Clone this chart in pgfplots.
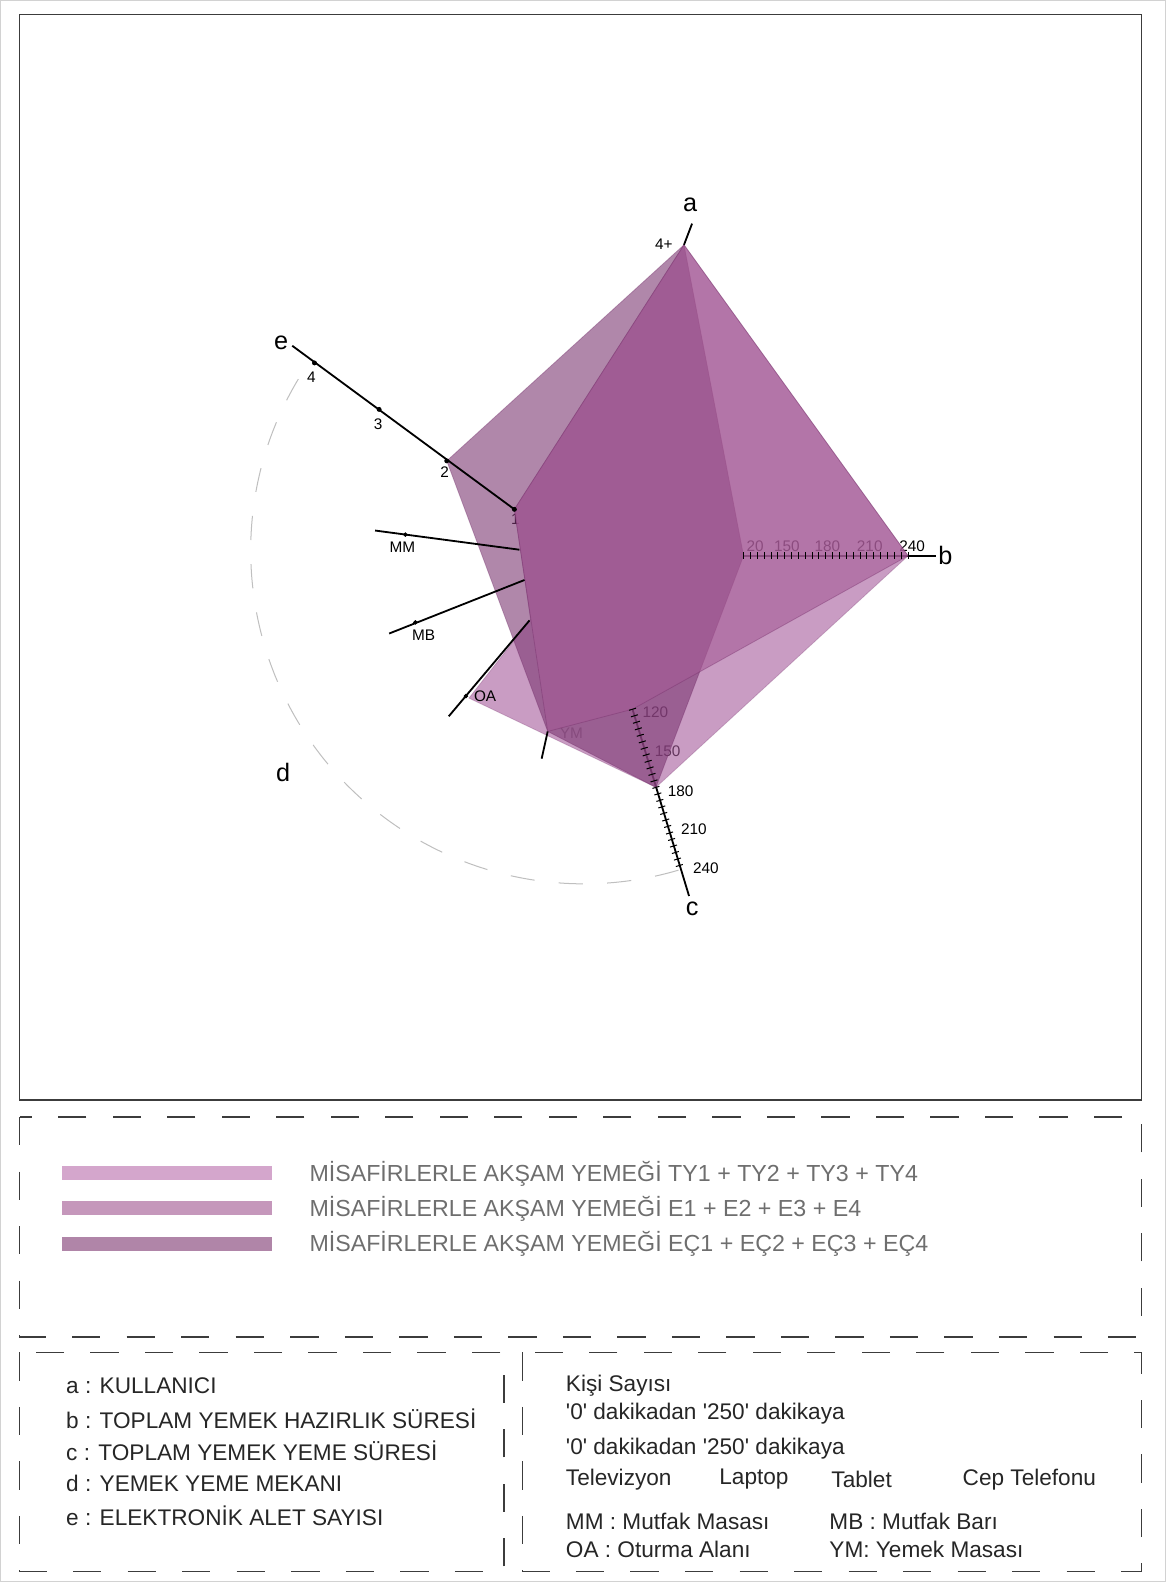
\documentclass[border=0pt]{standalone}
\usepackage{pgfplots}
\pgfplotsset{compat=1.18}
\usepackage{fontspec}
\setmainfont{Liberation Sans}
\definecolor{tyc}{RGB}{165,90,155}
\definecolor{ec}{RGB}{166,91,150}
\definecolor{ecc}{RGB}{124,55,114}
\definecolor{legA}{RGB}{212,166,204}
\definecolor{legB}{RGB}{197,151,187}
\definecolor{legC}{RGB}{176,133,168}
\definecolor{framec}{RGB}{60,60,60}
\definecolor{legtext}{RGB}{110,110,110}
\definecolor{edgec}{RGB}{110,40,100}

\begin{document}
\begin{tikzpicture}
\begin{axis}[width=578pt, height=784pt, scale only axis,
    xmin=0, xmax=1156, ymin=0, ymax=1568, y dir=reverse,
    hide axis, clip=false]

% frames
\draw[gray!35, line width=0.5pt] (axis cs:1,1) rectangle (axis cs:1155,1567);
\draw[framec, line width=0.8pt] (axis cs:20,15) rectangle (axis cs:1131,1090);
\draw[framec, line width=0.8pt, dash pattern=on 14pt off 13pt] (axis cs:20,1107) rectangle (axis cs:1131,1325);
\draw[framec, line width=0.8pt, dash pattern=on 14pt off 13pt] (axis cs:20,1340) rectangle (axis cs:500,1557);
\draw[framec, line width=0.8pt, dash pattern=on 14pt off 13pt] (axis cs:518,1340) rectangle (axis cs:1131,1557);

% d arc
\draw[gray!50, line width=0.5pt, dash pattern=on 12pt off 12pt] (axis cs:296,376) arc[start angle=149, end angle=287, radius=165pt];

% b axis (under the shapes)
\addplot[black, line width=0.9pt] coordinates {(737,551)(928,551)};
\addplot[black, only marks, mark=|, mark size=1.8pt, mark options={line width=0.5pt}] coordinates {
 (737,551)(743.8,551)(750.6,551)(757.4,551)(764.2,551)(771,551)(777.7,551)(784.5,551)
 (791.3,551)(798.1,551)(804.9,551)(811.7,551)(818.5,551)(825.3,551)(832.1,551)(838.9,551)
 (845.6,551)(852.4,551)(859.2,551)(866,551)(872.8,551)(879.6,551)(886.4,551)(893.2,551)(900,551)};
% c axis
\addplot[black, line width=0.9pt] coordinates {(627,703)(683,888)};
\addplot[black, only marks, mark=|, mark size=1.8pt, mark options={line width=0.5pt, rotate=-73.3}] coordinates {
 (627,703)(628.9,709.5)(630.9,715.9)(632.8,722.4)(634.7,728.8)(636.7,735.3)(638.6,741.7)
 (640.5,748.2)(642.5,754.6)(644.4,761.1)(646.3,767.5)(648.3,774)(650.2,780.4)(652.1,786.9)
 (654.1,793.3)(656,799.8)(657.9,806.2)(659.9,812.7)(661.8,819.1)(663.7,825.6)(665.7,832)
 (667.6,838.5)(669.5,844.9)(671.5,851.4)(673.4,857.8)};

\begin{scope}[font=\fontsize{7.6}{9}\selectfont]
\node[anchor=west] at (axis cs:733,542) {20};
\node at (axis cs:780,542) {150};
\node at (axis cs:820,542) {180};
\node at (axis cs:862,542) {210};
\node at (axis cs:904,542) {240};
\node[anchor=west] at (axis cs:630,706) {120};
\node[anchor=west] at (axis cs:642,745) {150};
\node[anchor=west] at (axis cs:655,784) {180};
\node[anchor=west] at (axis cs:668,822) {210};
\node[anchor=west] at (axis cs:680,860) {240};
\node[anchor=west, gray] at (axis cs:548,727) {YM};
\node at (axis cs:511,515) {1};
\end{scope}

% shapes: TY, EÇ, E
\addplot[draw=edgec, draw opacity=0.25, line width=0.4pt, fill=tyc, fill opacity=0.6]
  coordinates {(678,243)(900,551)(650.2,780.4)(465,692)(526,614)(510,505)} -- cycle;
\addplot[draw=edgec, draw opacity=0.35, line width=0.4pt, fill=ecc, fill opacity=0.6]
  coordinates {(678,243)(737,551)(650.2,780.4)(543,725)(443,457)} -- cycle;
\addplot[draw=edgec, draw opacity=0.35, line width=0.4pt, fill=ec, fill opacity=0.6]
  coordinates {(678,243)(900,551)(627,703)(543,725)(510,505)} -- cycle;

% axes on top
\addplot[black, line width=0.9pt] coordinates {(678,243)(686,222)};
\addplot[black, line width=0.9pt] coordinates {(290,343)(510,505)};
\addplot[black, only marks, mark=*, mark size=1pt] coordinates {(312,360)(376,406)(443,457)(510,505)};
\addplot[black, line width=0.9pt] coordinates {(372,526)(515,545)};
\addplot[black, line width=0.9pt] coordinates {(386,628)(520,575)};
\addplot[black, line width=0.9pt] coordinates {(445,710)(525,615)};
\addplot[black, line width=0.9pt] coordinates {(537,752)(543,725)};
\addplot[black, only marks, mark=*, mark size=0.9pt] coordinates {(402,530)(412,617)(462,690)};
\addplot[black, line width=0.9pt] coordinates {(900,551)(928,551)};

\begin{scope}[font=\fontsize{12.5}{14}\selectfont]
\node at (axis cs:684,203) {a};
\node at (axis cs:937,551) {b};
\node at (axis cs:686,901) {c};
\node at (axis cs:281,766) {d};
\node at (axis cs:279,340) {e};
\end{scope}
\begin{scope}[font=\fontsize{7.6}{9}\selectfont]
\node at (axis cs:658,242) {4+};
\node at (axis cs:309,374) {4};
\node at (axis cs:375,421) {3};
\node at (axis cs:441,468) {2};
\node at (axis cs:399,543) {MM};
\node at (axis cs:420,630) {MB};
\node at (axis cs:481,690) {OA};
\end{scope}

% legend
\addplot[legA, line width=7pt] coordinates {(62,1162)(270,1162)};
\addplot[legB, line width=7pt] coordinates {(62,1197)(270,1197)};
\addplot[legC, line width=7pt] coordinates {(62,1233)(270,1233)};
\begin{scope}[font=\fontsize{11.5}{13}\selectfont, text=legtext]
\node[anchor=west] at (axis cs:300,1163) {MİSAFİRLERLE AKŞAM YEMEĞİ TY1 + TY2 + TY3 + TY4};
\node[anchor=west] at (axis cs:300,1198) {MİSAFİRLERLE AKŞAM YEMEĞİ E1 + E2 + E3 + E4};
\node[anchor=west] at (axis cs:300,1233) {MİSAFİRLERLE AKŞAM YEMEĞİ EÇ1 + EÇ2 + EÇ3 + EÇ4};
\end{scope}

% bottom notes
\begin{scope}[font=\fontsize{11.2}{13}\selectfont, text=black!85]
\node[anchor=west] at (axis cs:59,1373) {a : KULLANICI};
\node[anchor=west] at (axis cs:59,1406) {b : TOPLAM YEMEK HAZIRLIK SÜRESİ};
\node[anchor=west] at (axis cs:59,1438) {c : TOPLAM YEMEK YEME SÜRESİ};
\node[anchor=west] at (axis cs:59,1470) {d : YEMEK YEME MEKANI};
\node[anchor=west] at (axis cs:59,1502) {e : ELEKTRONİK ALET SAYISI};
\node[anchor=west] at (axis cs:554,1373) {Kişi Sayısı};
\node[anchor=west] at (axis cs:554,1401) {\textquotesingle0\textquotesingle{} dakikadan \textquotesingle250\textquotesingle{} dakikaya};
\node[anchor=west] at (axis cs:554,1435) {\textquotesingle0\textquotesingle{} dakikadan \textquotesingle250\textquotesingle{} dakikaya};
\node[anchor=west] at (axis cs:554,1466) {Televizyon};
\node[anchor=west] at (axis cs:706,1466) {Laptop};
\node[anchor=west] at (axis cs:817,1466) {Tablet};
\node[anchor=west] at (axis cs:947,1466) {Cep Telefonu};
\node[anchor=west] at (axis cs:554,1507) {MM : Mutfak Masası};
\node[anchor=west] at (axis cs:815,1507) {MB : Mutfak Barı};
\node[anchor=west] at (axis cs:554,1535) {OA : Oturma Alanı};
\node[anchor=west] at (axis cs:815,1535) {YM: Yemek Masası};
\end{scope}
\end{axis}
\end{tikzpicture}
\end{document}
